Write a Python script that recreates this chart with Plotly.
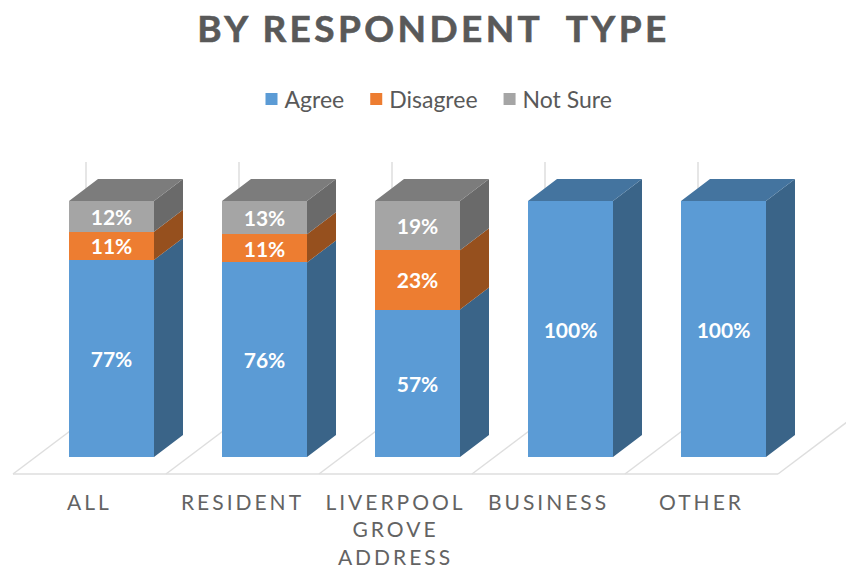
import plotly.graph_objects as go

categories = ["ALL", "RESIDENT", "LIVERPOOL<br>GROVE<br>ADDRESS", "BUSINESS", "OTHER"]
agree = [77, 76, 57, 100, 100]
disagree = [11, 11, 23, 0, 0]
not_sure = [12, 13, 19, 0, 0]
series_names = ["Agree", "Disagree", "Not Sure"]

FRONT = ["#5B9BD5", "#ED7D31", "#A5A5A5"]
SIDE = ["#3A6488", "#96501E", "#6A6A6A"]
TOP = ["#44749F", "#B25E25", "#7C7C7C"]
INK = "#595959"
FLOOR = "#DEDEDE"

# pixel calibration of the reference: one category = 153 px, 100 % = 256 px
PX_X, PX_Y = 153.0, 2.56
X0_PX, Y0_PX = 111.5, 457.0
BAR_W = 85 / PX_X
DX, DY = 29 / PX_X, 22 / PX_Y
FLOOR_LEFT = (13 - X0_PX) / PX_X
FLOOR_FRONT = (Y0_PX - 474) / PX_Y
FLOOR_DX, FLOOR_DY = 73 / PX_X, 55 / PX_Y
GRID_TOP = (Y0_PX - 162) / PX_Y
PLOT_BOTTOM_PX = 482
TICK_SHIFT = -22 / PX_X

columns = [agree, disagree, not_sure]
xs = list(range(len(categories)))
fig = go.Figure()

for vals, name, col in zip(columns, series_names, FRONT):
    fig.add_trace(go.Bar(
        x=xs, y=vals, name=name, width=BAR_W, marker=dict(color=col, line=dict(width=0)),
        text=[f"{v}%" if v else "" for v in vals], textposition="inside",
        insidetextanchor="middle", textangle=0, constraintext="none",
        textfont=dict(family="Lato", size=21, color="white", weight="bold"),
        hoverinfo="skip",
    ))

# side and top faces of each column, derived from the normalised stack
side_xy = [([], []) for _ in columns]
top_xy = [([], []) for _ in columns]
for i in xs:
    total = sum(c[i] for c in columns)
    base = 0.0
    right = i + BAR_W / 2
    left = i - BAR_W / 2
    last = None
    for s, c in enumerate(columns):
        if c[i] == 0:
            continue
        h = c[i] / total * 100
        sx, sy = side_xy[s]
        sx += [right, right, right + DX, right + DX, right, None]
        sy += [base, base + h, base + h + DY, base + DY, base, None]
        base += h
        last = s
    tx, ty = top_xy[last]
    tx += [left, right, right + DX, left + DX, left, None]
    ty += [base, base, base + DY, base + DY, base, None]

for s in range(len(columns)):
    for (px, py), col in ((side_xy[s], SIDE[s]), (top_xy[s], TOP[s])):
        if px:
            fig.add_trace(go.Scatter(
                x=px, y=py, mode="lines", fill="toself", fillcolor=col,
                line=dict(width=0, color=col), showlegend=False, hoverinfo="skip",
            ))

# floor and back-wall lines
n = len(categories)
line = dict(color=FLOOR, width=1.5)
fig.add_shape(type="line", x0=FLOOR_LEFT, x1=FLOOR_LEFT + n, y0=FLOOR_FRONT, y1=FLOOR_FRONT,
              line=line, layer="below")
for k in range(n + 1):
    fx = FLOOR_LEFT + k
    fig.add_shape(type="line", x0=fx, x1=fx + FLOOR_DX, y0=FLOOR_FRONT, y1=FLOOR_FRONT + FLOOR_DY,
                  line=line, layer="below")
    if k < n:
        fig.add_shape(type="line", x0=fx + FLOOR_DX, x1=fx + FLOOR_DX,
                      y0=FLOOR_FRONT + FLOOR_DY, y1=GRID_TOP, line=line, layer="below")

fig.update_layout(
    width=846, height=570, autosize=False,
    paper_bgcolor="white", plot_bgcolor="white",
    barmode="stack", barnorm="percent",
    margin=dict(l=0, r=0, t=0, b=570 - PLOT_BOTTOM_PX, autoexpand=False),
    font=dict(family="Lato", color=INK),
    title=dict(text="BY RESPONDENT  TYPE", x=433.5 / 846, xanchor="center", y=1 - 29 / 570, yanchor="middle",
               font=dict(family="Lato", size=37, color=INK, weight="bold")),
    legend=dict(orientation="h", traceorder="normal", x=438 / 846, xanchor="center",
                y=1 - 99 / PLOT_BOTTOM_PX, yanchor="middle",
                font=dict(family="Lato", size=23, color=INK), bgcolor="rgba(0,0,0,0)"),
    xaxis=dict(range=[-X0_PX / PX_X, (846 - X0_PX) / PX_X],
               tickvals=[x + TICK_SHIFT for x in xs], ticktext=categories,
               showgrid=False, zeroline=False, showline=False, ticks="", fixedrange=True,
               tickangle=0, ticklabelstandoff=6,
               tickfont=dict(family="Lato", size=21, color="#636363")),
    yaxis=dict(range=[(Y0_PX - PLOT_BOTTOM_PX) / PX_Y, Y0_PX / PX_Y], visible=False, fixedrange=True),
)

css = """
var s=document.createElement('style');
s.textContent='html,body{margin:0;padding:0;overflow:hidden}.xtick text{letter-spacing:3px}'
 +'.gtitle{letter-spacing:3.4px;stroke:#595959;stroke-width:.6px}'
 +'.legendtext{transform:translateX(-7px)}';
document.head.appendChild(s);
"""
fig.write_html("out.html", post_script=css, config={"displayModeBar": False})
